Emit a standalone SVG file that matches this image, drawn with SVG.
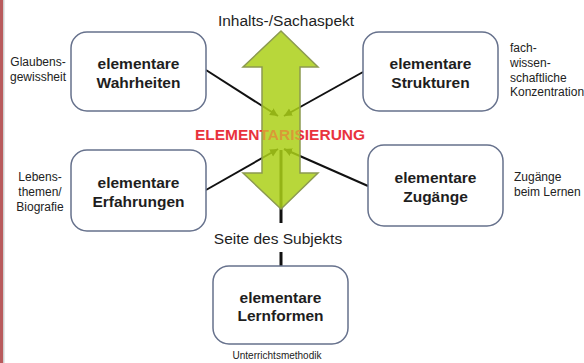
<svg xmlns="http://www.w3.org/2000/svg" width="584" height="363" viewBox="0 0 584 363">
<defs>
<style>
.box{fill:#fff;stroke:#66718c;stroke-width:1.5}
.bt{font-family:"Liberation Sans",Arial,sans-serif;font-weight:bold;font-size:15.5px;fill:#1e1e1e;text-anchor:middle}
.lab{font-family:"Liberation Sans",Arial,sans-serif;font-size:12px;fill:#222}
.big{font-family:"Liberation Sans",Arial,sans-serif;font-size:15.5px;fill:#1e1e1e;text-anchor:middle}
.ln{stroke:#111;stroke-width:2;fill:none}
</style>
<marker id="ah" markerUnits="userSpaceOnUse" markerWidth="9" markerHeight="9" refX="8" refY="4" orient="auto">
<path d="M0,0 L8,4 L0,8 Z" fill="#111"/>
</marker>
<linearGradient id="tg" gradientUnits="userSpaceOnUse" x1="190" y1="0" x2="370" y2="0">
<stop offset="0" stop-color="#e8323c"/>
<stop offset="0.4" stop-color="#e8323c"/>
<stop offset="0.4" stop-color="#d99a36"/>
<stop offset="0.611" stop-color="#d99a36"/>
<stop offset="0.611" stop-color="#e8323c"/>
<stop offset="1" stop-color="#e8323c"/>
</linearGradient>
</defs>
<rect x="0" y="0" width="584" height="363" fill="#fff"/>
<rect x="0" y="0" width="3" height="363" fill="#b85a5c"/>
<rect x="3" y="0" width="1.5" height="363" fill="#cfcfcf"/>

<g id="connectors">
<line class="ln" x1="206" y1="70" x2="278" y2="116" marker-end="url(#ah)"/>
<line class="ln" x1="363" y1="72" x2="284" y2="116" marker-end="url(#ah)"/>
<line class="ln" x1="206" y1="190" x2="278" y2="149" marker-end="url(#ah)"/>
<line class="ln" x1="368" y1="186" x2="284" y2="149" marker-end="url(#ah)"/>
<line class="ln" x1="281" y1="150" x2="281" y2="223" style="stroke-width:3"/>
<line class="ln" x1="281" y1="252" x2="281" y2="266" style="stroke-width:3"/>
</g>

<g id="arrow">
<path d="M281,31 L318,67 L300,67 L300,173 L318,173 L281,209 L243,173 L262,173 L262,67 L243,67 Z" fill="#acd018" fill-opacity="0.85" stroke="#8c9a50" stroke-width="1.5"/>
</g>

<g id="center-label">
<text x="280" y="139.5" font-family="Liberation Sans, Arial, sans-serif" font-weight="bold" font-size="15.5px" fill="url(#tg)" text-anchor="middle">ELEMENTARISIERUNG</text>
</g>

<g id="top-label"><text class="big" x="286" y="25.5">Inhalts-/Sachaspekt</text></g>
<g id="subject-label"><text class="big" x="278" y="243.5">Seite des Subjekts</text></g>

<g id="wahrheiten">
<rect class="box" x="71" y="32" width="135" height="79" rx="16"/>
<text class="bt" x="138.5" y="68.5">elementare</text>
<text class="bt" x="138.5" y="87.5">Wahrheiten</text>
</g>
<g id="strukturen">
<rect class="box" x="363" y="32" width="135" height="79" rx="16"/>
<text class="bt" x="430.5" y="68.5">elementare</text>
<text class="bt" x="430.5" y="87.5">Strukturen</text>
</g>
<g id="erfahrungen">
<rect class="box" x="71" y="150" width="135" height="81" rx="16"/>
<text class="bt" x="138.5" y="188">elementare</text>
<text class="bt" x="138.5" y="207">Erfahrungen</text>
</g>
<g id="zugaenge">
<rect class="box" x="368" y="145" width="135" height="81" rx="16"/>
<text class="bt" x="435.5" y="182.5">elementare</text>
<text class="bt" x="435.5" y="202">Zugänge</text>
</g>
<g id="lernformen">
<rect class="box" x="213" y="266" width="135" height="78" rx="16"/>
<text class="bt" x="280.5" y="302.5">elementare</text>
<text class="bt" x="280.5" y="321">Lernformen</text>
</g>

<g id="side-labels">
<text class="lab" x="38" y="66" text-anchor="middle">Glaubens-</text>
<text class="lab" x="38" y="81" text-anchor="middle">gewissheit</text>
<text class="lab" x="40" y="181" text-anchor="middle">Lebens-</text>
<text class="lab" x="40" y="196" text-anchor="middle">themen/</text>
<text class="lab" x="40" y="211" text-anchor="middle">Biografie</text>
<text class="lab" x="510" y="52">fach-</text>
<text class="lab" x="510" y="67">wissen-</text>
<text class="lab" x="510" y="82">schaftliche</text>
<text class="lab" x="510" y="96">Konzentration</text>
<text class="lab" x="514" y="181">Zugänge</text>
<text class="lab" x="514" y="196">beim Lernen</text>
<text class="lab" x="277" y="358.5" text-anchor="middle" style="font-size:10px">Unterrichtsmethodik</text>
</g>
</svg>
